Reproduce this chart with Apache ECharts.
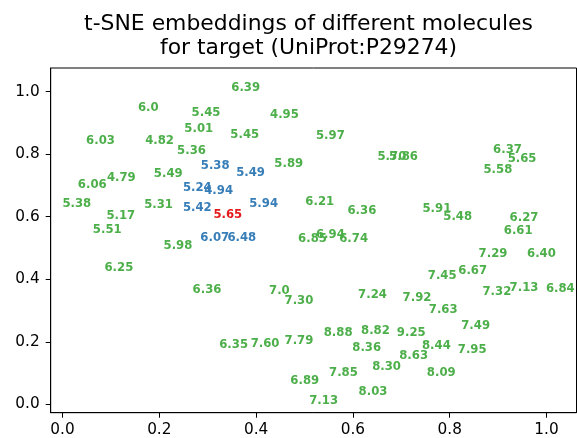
<!DOCTYPE html>
<html>
<head>
<meta charset="utf-8">
<script src="https://cdn.jsdelivr.net/npm/echarts@6/dist/echarts.min.js"></script>
<style>
  html, body { margin: 0; padding: 0; background: #fff; }
  #chart { width: 577px; height: 438px; }
</style>
</head>
<body>
<div id="chart"></div>
<script>
// 标签文字(活性值)与 t-SNE 坐标
var greenLabels = ['6.0','5.45','5.01','6.03','4.82','5.36','6.06','4.79','5.49','5.38','5.31','5.17','5.51',
  '6.39','4.95','5.45','5.97','5.89','6.21','6.36','5.70','5.86','6.94','6.85','6.74',
  '6.37','5.65','5.58','5.91','5.48','6.27','6.61',
  '5.98','6.25','6.36','7.0','7.30','6.35','7.60','7.79','6.89',
  '7.29','6.40','7.45','6.67','7.32','7.13','6.84','7.24','7.92','7.63','7.49',
  '8.88','8.82','9.25','8.36','8.44','7.95','8.63','8.30','7.85','8.09','8.03','7.13'];
var greenX = [0.158,0.269,0.254,0.051,0.173,0.239,0.034,0.094,0.191,0.002,0.171,0.093,0.065,
  0.351,0.431,0.349,0.526,0.440,0.504,0.591,0.653,0.677,0.526,0.489,0.574,
  0.892,0.922,0.872,0.746,0.789,0.926,0.914,
  0.211,0.089,0.271,0.429,0.461,0.326,0.391,0.461,0.473,
  0.862,0.962,0.757,0.820,0.870,0.926,1.001,0.613,0.705,0.759,0.826,
  0.542,0.619,0.693,0.601,0.745,0.819,0.698,0.642,0.553,0.755,0.614,0.512];
var greenY = [0.935,0.918,0.869,0.830,0.830,0.797,0.690,0.712,0.723,0.628,0.624,0.589,0.545,
  0.999,0.914,0.850,0.845,0.757,0.633,0.607,0.778,0.778,0.529,0.515,0.515,
  0.802,0.773,0.737,0.611,0.588,0.583,0.541,
  0.493,0.423,0.354,0.349,0.317,0.176,0.179,0.189,0.062,
  0.468,0.469,0.397,0.413,0.347,0.360,0.356,0.338,0.328,0.290,0.239,
  0.216,0.221,0.216,0.166,0.173,0.160,0.141,0.106,0.086,0.088,0.028,-0.001];

var blueLabels = ['5.38','5.49','5.24','4.94','5.42','5.94','6.07','6.48'];
var blueX = [0.288,0.361,0.251,0.295,0.251,0.388,0.287,0.343];
var blueY = [0.750,0.728,0.680,0.671,0.616,0.629,0.519,0.519];

var redLabels = ['5.65'];
var redX = [0.314];
var redY = [0.592];

var tickValues = [0, 0.2, 0.4, 0.6, 0.8, 1.0];

function makeData(labels, xs, ys){
    var d = [];
    for (var i = 0; i < labels.length; i++) {
        d.push([xs[i], ys[i], labels[i]]);
    }
    return d;
}

function makeSeries(labels, xs, ys, color){
    return {
        type: 'scatter',
        data: makeData(labels, xs, ys),
        symbolSize: 1,
        itemStyle: { color: 'rgba(0,0,0,0)', opacity: 1 },
        label: {
            show: true,
            position: [0, 0],
            align: 'left',
            verticalAlign: 'bottom',
            offset: [-0.6, 2.5],
            formatter: function(p){ return p.value[2]; },
            color: color,
            opacity: 1,
            fontFamily: 'DejaVu Sans',
            fontWeight: 'bold',
            fontSize: 11.7
        },
        emphasis: { disabled: true },
        clip: false
    };
}

var mychart = echarts.init(document.getElementById('chart'));
var axisCommon = {
    type: 'value',
    splitLine: { show: false },
    axisLine: { show: true, onZero: false, lineStyle: { color: '#000', width: 1 } },
    axisTick: { show: true, length: 5, inside: false, customValues: tickValues, lineStyle: { color: '#000' } },
    axisLabel: {
        customValues: tickValues,
        color: '#000',
        fontFamily: 'DejaVu Sans',
        fontSize: 15.3,
        formatter: function(v){ return v.toFixed(1); }
    }
};

var option = {
    animation: false,
    backgroundColor: '#fff',
    title: {
        text: 't-SNE embeddings of different molecules\nfor target (UniProt:P29274)',
        left: 308.5,
        top: 13,
        padding: 0,
        textAlign: 'center',
        textStyle: {
            color: '#000',
            fontFamily: 'DejaVu Sans',
            fontWeight: 'normal',
            fontSize: 21.9,
            lineHeight: 23.5
        }
    },
    grid: {
        left: 50.7, right: 0.5, top: 68, bottom: 25.3,
        show: true, borderColor: '#000', borderWidth: 1,
        containLabel: false
    },
    xAxis: Object.assign({}, axisCommon, {
        min: -0.0244, max: 1.062,
        axisLabel: Object.assign({}, axisCommon.axisLabel, { margin: 9.5 })
    }),
    yAxis: Object.assign({}, axisCommon, {
        min: -0.0268, max: 1.0756,
        axisLabel: Object.assign({}, axisCommon.axisLabel, { margin: 11 })
    }),
    series: [
        makeSeries(greenLabels, greenX, greenY, '#4daf4a'),
        makeSeries(blueLabels, blueX, blueY, '#377eb8'),
        makeSeries(redLabels, redX, redY, '#e41a1c')
    ]
};
mychart.setOption(option);
</script>
</body>
</html>
